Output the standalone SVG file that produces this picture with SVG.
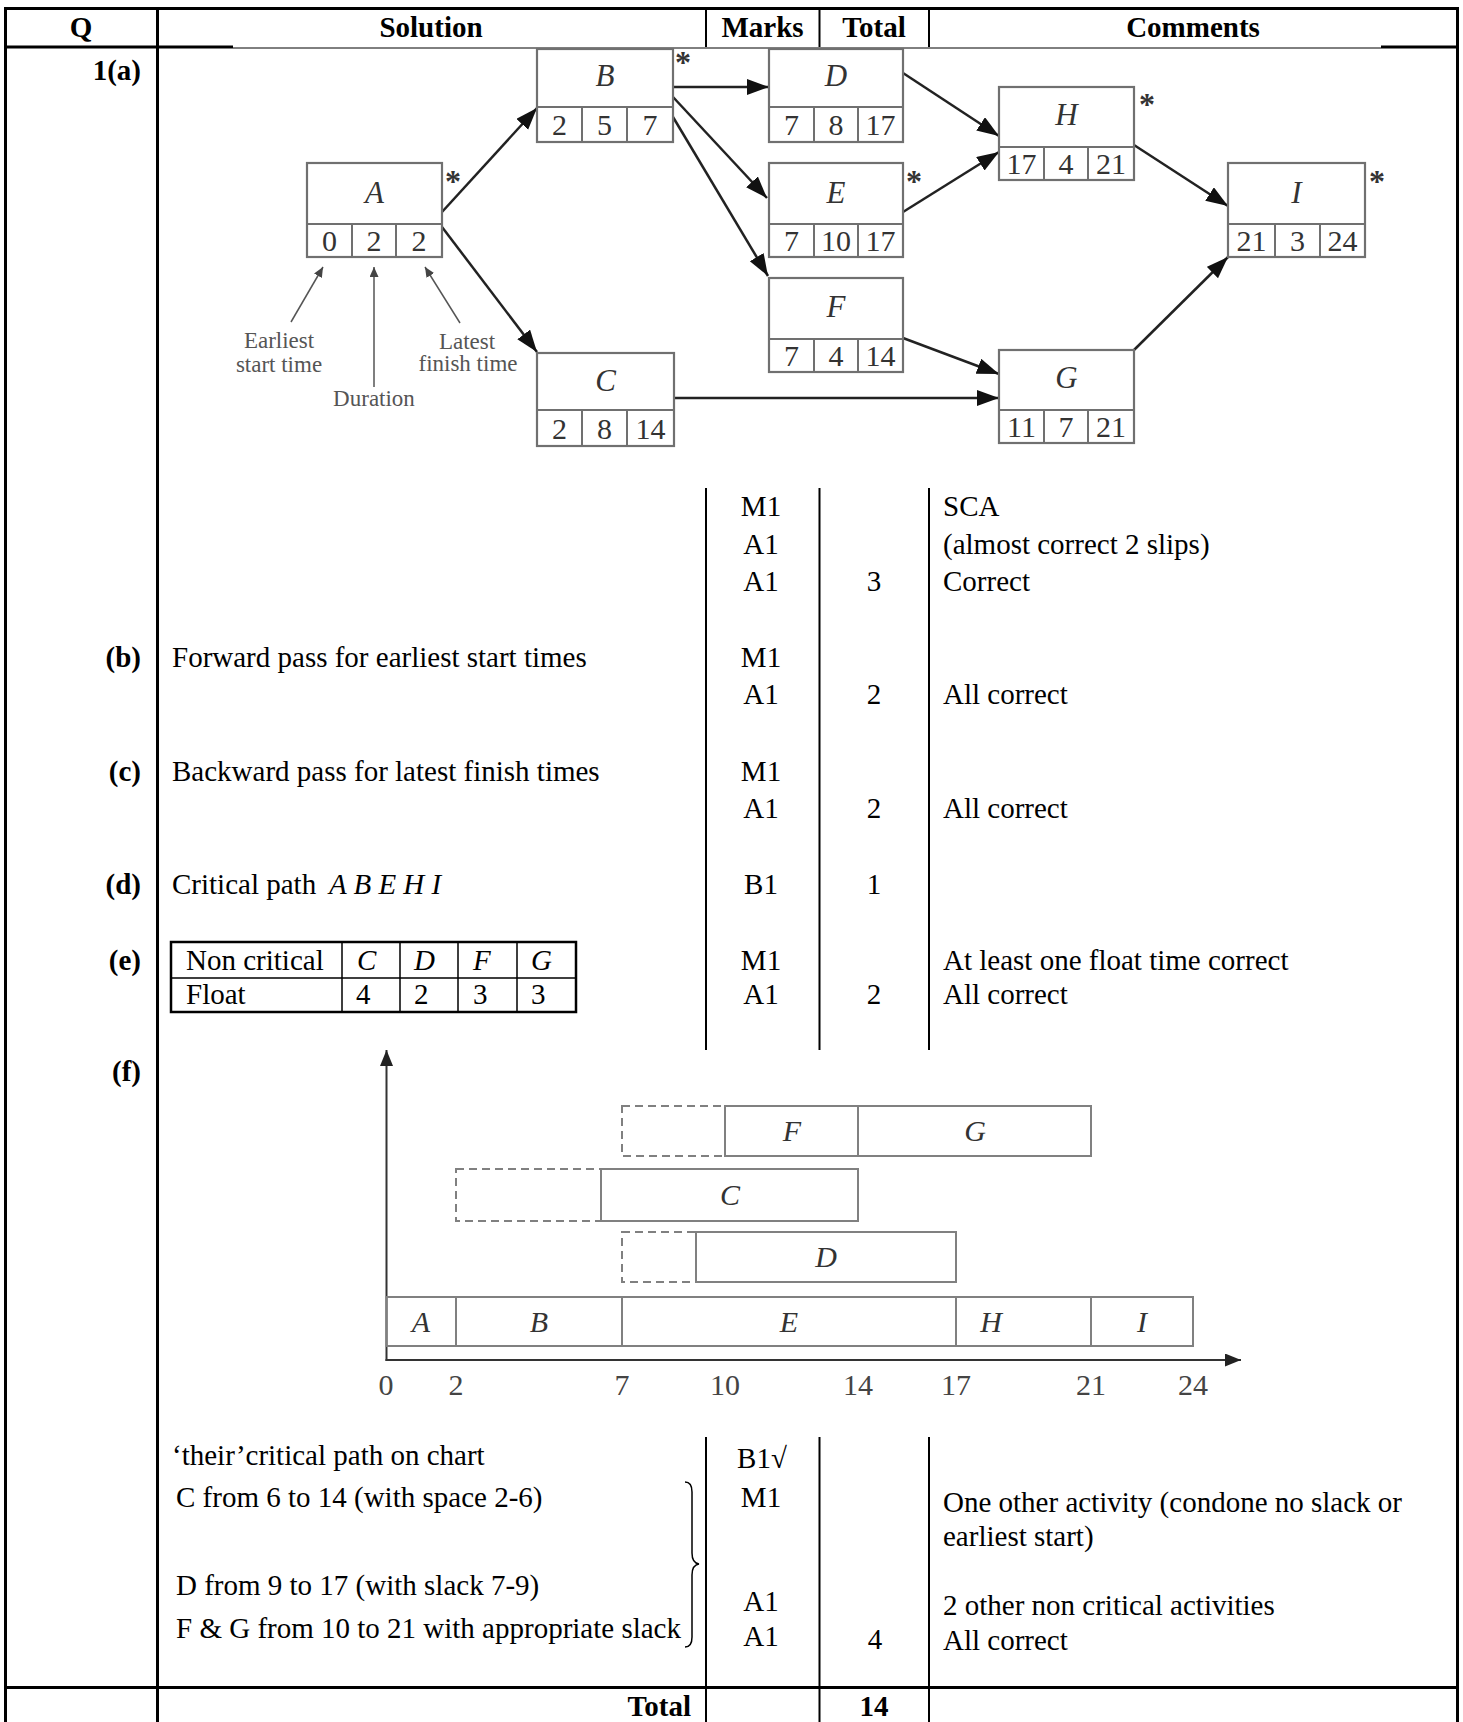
<svg xmlns="http://www.w3.org/2000/svg" width="1463" height="1722" viewBox="0 0 1463 1722">
<style>
.t{font-family:"Liberation Serif","Times New Roman",serif;font-size:29px;fill:#000}
.b{font-weight:bold}
.i{font-style:italic}
.c{text-anchor:middle}
.e{text-anchor:end}
.grid{stroke:#000;stroke-width:2;fill:none}
.thk{stroke:#000;stroke-width:3;fill:none}
.box{fill:#fff;stroke:#707070;stroke-width:2.2}
.bl{stroke:#707070;stroke-width:2;fill:none}
.nl{font-family:"Liberation Serif","Times New Roman",serif;font-size:31px;font-style:italic;fill:#333;text-anchor:middle}
.nn{font-family:"Liberation Serif","Times New Roman",serif;font-size:30px;fill:#333;text-anchor:middle}
.ast{font-family:"Liberation Serif","Times New Roman",serif;font-size:32px;font-weight:bold;fill:#333;text-anchor:middle}
.arr{stroke:#222;stroke-width:2.5;fill:none;marker-end:url(#ah)}
.ptr{stroke:#555;stroke-width:1.5;fill:none;marker-end:url(#ph)}
.lab{font-family:"Liberation Serif","Times New Roman",serif;font-size:23px;fill:#555;text-anchor:middle}
.gb{fill:none;stroke:#808080;stroke-width:2}
.gd{fill:none;stroke:#808080;stroke-width:2;stroke-dasharray:8 5}
.ax{stroke:#333;stroke-width:2;fill:none;marker-end:url(#axh)}
.gl{font-family:"Liberation Serif","Times New Roman",serif;font-size:30px;font-style:italic;fill:#333;text-anchor:middle}
.tk{font-family:"Liberation Serif","Times New Roman",serif;font-size:30px;fill:#444;text-anchor:middle}
</style>
<defs>
<marker id="ah" markerUnits="userSpaceOnUse" markerWidth="24" markerHeight="18" refX="22" refY="8" orient="auto"><path d="M0,0 L22,8 L0,16 z" fill="#111"/></marker>
<marker id="ph" markerUnits="userSpaceOnUse" markerWidth="12" markerHeight="9" refX="10" refY="4.5" orient="auto"><path d="M0,0 L10,4.5 L0,9 z" fill="#444"/></marker>
<marker id="axh" markerUnits="userSpaceOnUse" markerWidth="18" markerHeight="14" refX="16" refY="6.5" orient="auto"><path d="M0,0 L16,6.5 L0,13 z" fill="#222"/></marker>
</defs>
<rect width="1463" height="1722" fill="#fff"/>

<g id="table-grid">
<line class="thk" x1="4" y1="8.5" x2="1459" y2="8.5"/>
<line class="thk" x1="5.5" y1="8" x2="5.5" y2="1722"/>
<line class="thk" x1="157.5" y1="8" x2="157.5" y2="1722"/>
<line class="thk" x1="1457.5" y1="8" x2="1457.5" y2="1722"/>
<line class="grid" x1="706" y1="8" x2="706" y2="47"/>
<line class="grid" x1="819.5" y1="8" x2="819.5" y2="47"/>
<line class="grid" x1="929" y1="8" x2="929" y2="47"/>
<line class="thk" x1="5" y1="47" x2="233" y2="47"/>
<line stroke="#000" stroke-width="1" x1="233" y1="48" x2="1381" y2="48"/>
<line class="thk" x1="1381" y1="47" x2="1458" y2="47"/>
<line class="grid" x1="706" y1="488" x2="706" y2="1050"/>
<line class="grid" x1="819.5" y1="488" x2="819.5" y2="1050"/>
<line class="grid" x1="929" y1="488" x2="929" y2="1050"/>
<line class="grid" x1="706" y1="1437" x2="706" y2="1722"/>
<line class="grid" x1="819.5" y1="1437" x2="819.5" y2="1722"/>
<line class="grid" x1="929" y1="1437" x2="929" y2="1722"/>
<line class="thk" x1="4" y1="1687.5" x2="1459" y2="1687.5"/>
</g>

<g id="header">
<text class="t b c" x="81" y="37">Q</text>
<text class="t b c" x="431" y="37">Solution</text>
<text class="t b c" x="762.5" y="37">Marks</text>
<text class="t b c" x="874" y="37">Total</text>
<text class="t b c" x="1193" y="37">Comments</text>
</g>

<g id="network">
<g id="connectors">
<path class="arr" d="M442,212 L537,108"/>
<path class="arr" d="M442,227 L537,352"/>
<path class="arr" d="M673,87 L769,87"/>
<path class="arr" d="M673,97 L767,198"/>
<path class="arr" d="M673,117 L768,276"/>
<path class="arr" d="M903,73 L999,136"/>
<path class="arr" d="M903,212 L999,152"/>
<path class="arr" d="M1134,145 L1228,206"/>
<path class="arr" d="M903,338 L999,374"/>
<path class="arr" d="M674,398 L999,398"/>
<path class="arr" d="M1134,350 L1228,257"/>
<path class="ptr" d="M291,322 L323,267"/>
<path class="ptr" d="M374,387 L374,267"/>
<path class="ptr" d="M460,323 L425,267"/>
</g>
<g id="node-A">
<rect class="box" x="307" y="163" width="135" height="94"/>
<path class="bl" d="M307,224 H442 M352,224 V257 M396,224 V257"/>
<text class="nl" x="374.5" y="203">A</text>
<text class="nn" x="329.5" y="251">0</text><text class="nn" x="374" y="251">2</text><text class="nn" x="419" y="251">2</text>
<text class="ast" x="453" y="192">*</text>
</g>
<g id="node-B">
<rect class="box" x="537" y="49" width="136" height="93"/>
<path class="bl" d="M537,107 H673 M582,107 V142 M627,107 V142"/>
<text class="nl" x="605" y="86">B</text>
<text class="nn" x="559.5" y="135">2</text><text class="nn" x="604.5" y="135">5</text><text class="nn" x="650" y="135">7</text>
<text class="ast" x="683" y="73">*</text>
</g>
<g id="node-C">
<rect class="box" x="537" y="353" width="137" height="93"/>
<path class="bl" d="M537,410 H674 M582,410 V446 M627,410 V446"/>
<text class="nl" x="605.5" y="391">C</text>
<text class="nn" x="559.5" y="439">2</text><text class="nn" x="604.5" y="439">8</text><text class="nn" x="650.5" y="439">14</text>
</g>
<g id="node-D">
<rect class="box" x="769" y="49" width="134" height="93"/>
<path class="bl" d="M769,107 H903 M814,107 V142 M858,107 V142"/>
<text class="nl" x="836" y="86">D</text>
<text class="nn" x="791.5" y="135">7</text><text class="nn" x="836" y="135">8</text><text class="nn" x="880.5" y="135">17</text>
</g>
<g id="node-E">
<rect class="box" x="769" y="163" width="134" height="94"/>
<path class="bl" d="M769,224 H903 M814,224 V257 M858,224 V257"/>
<text class="nl" x="836" y="203">E</text>
<text class="nn" x="791.5" y="251">7</text><text class="nn" x="836" y="251">10</text><text class="nn" x="880.5" y="251">17</text>
<text class="ast" x="914" y="192">*</text>
</g>
<g id="node-F">
<rect class="box" x="769" y="278" width="134" height="94"/>
<path class="bl" d="M769,339 H903 M814,339 V372 M858,339 V372"/>
<text class="nl" x="836" y="317">F</text>
<text class="nn" x="791.5" y="366">7</text><text class="nn" x="836" y="366">4</text><text class="nn" x="880.5" y="366">14</text>
</g>
<g id="node-G">
<rect class="box" x="999" y="350" width="135" height="93"/>
<path class="bl" d="M999,410 H1134 M1044,410 V443 M1088,410 V443"/>
<text class="nl" x="1066.5" y="388">G</text>
<text class="nn" x="1021.5" y="437">11</text><text class="nn" x="1066" y="437">7</text><text class="nn" x="1111" y="437">21</text>
</g>
<g id="node-H">
<rect class="box" x="999" y="87" width="135" height="93"/>
<path class="bl" d="M999,147 H1134 M1044,147 V180 M1088,147 V180"/>
<text class="nl" x="1066.5" y="125">H</text>
<text class="nn" x="1021.5" y="174">17</text><text class="nn" x="1066" y="174">4</text><text class="nn" x="1111" y="174">21</text>
<text class="ast" x="1147" y="115">*</text>
</g>
<g id="node-I">
<rect class="box" x="1228" y="163" width="137" height="94"/>
<path class="bl" d="M1228,224 H1365 M1275,224 V257 M1320,224 V257"/>
<text class="nl" x="1296.5" y="203">I</text>
<text class="nn" x="1251.5" y="251">21</text><text class="nn" x="1297.5" y="251">3</text><text class="nn" x="1342.5" y="251">24</text>
<text class="ast" x="1377" y="192">*</text>
</g>
<g id="pointer-labels">
<text class="lab" x="279" y="348">Earliest</text>
<text class="lab" x="279" y="372">start time</text>
<text class="lab" x="374" y="406">Duration</text>
<text class="lab" x="467" y="349">Latest</text>
<text class="lab" x="468" y="371">finish time</text>
</g>
</g>

<g id="row-a">
<text class="t b e" x="141" y="80">1(a)</text>
<text class="t c" x="761" y="516">M1</text>
<text class="t c" x="761" y="554">A1</text>
<text class="t c" x="761" y="591">A1</text>
<text class="t c" x="874" y="591">3</text>
<text class="t" x="943" y="516">SCA</text>
<text class="t" x="943" y="554">(almost correct 2 slips)</text>
<text class="t" x="943" y="591">Correct</text>
</g>

<g id="row-b">
<text class="t b e" x="141" y="667">(b)</text>
<text class="t" x="172" y="667">Forward pass for earliest start times</text>
<text class="t c" x="761" y="667">M1</text>
<text class="t c" x="761" y="704">A1</text>
<text class="t c" x="874" y="704">2</text>
<text class="t" x="943" y="704">All correct</text>
</g>

<g id="row-c">
<text class="t b e" x="141" y="781">(c)</text>
<text class="t" x="172" y="781">Backward pass for latest finish times</text>
<text class="t c" x="761" y="781">M1</text>
<text class="t c" x="761" y="818">A1</text>
<text class="t c" x="874" y="818">2</text>
<text class="t" x="943" y="818">All correct</text>
</g>

<g id="row-d">
<text class="t b e" x="141" y="894">(d)</text>
<text class="t" x="172" y="894">Critical path <tspan class="i" x="329">A B E H I</tspan></text>
<text class="t c" x="761" y="894">B1</text>
<text class="t c" x="874" y="894">1</text>
</g>

<g id="row-e">
<text class="t b e" x="141" y="970">(e)</text>
<g id="float-table">
<rect x="171" y="942" width="405" height="70" fill="none" stroke="#000" stroke-width="2.5"/>
<path d="M171,978 H576 M342,942 V1012 M400,942 V1012 M458,942 V1012 M517,942 V1012" stroke="#000" stroke-width="1.5" fill="none"/>
<text class="t" x="186" y="970">Non critical</text>
<text class="t" x="186" y="1004">Float</text>
<text class="t i" x="357" y="970">C</text>
<text class="t i" x="414" y="970">D</text>
<text class="t i" x="473" y="970">F</text>
<text class="t i" x="531" y="970">G</text>
<text class="t" x="356" y="1004">4</text>
<text class="t" x="414" y="1004">2</text>
<text class="t" x="473" y="1004">3</text>
<text class="t" x="531" y="1004">3</text>
</g>
<text class="t c" x="761" y="970">M1</text>
<text class="t c" x="761" y="1004">A1</text>
<text class="t c" x="874" y="1004">2</text>
<text class="t" x="943" y="970">At least one float time correct</text>
<text class="t" x="943" y="1004">All correct</text>
</g>

<g id="row-f">
<text class="t b e" x="141" y="1081">(f)</text>
<g id="gantt">
<path class="ax" d="M386.5,1361 V1050"/>
<path class="ax" d="M385.5,1360 H1241"/>
<rect class="gb" x="386.5" y="1297" width="806.5" height="49"/>
<path class="gb" d="M456,1297 V1346 M622,1297 V1346 M956,1297 V1346 M1091,1297 V1346"/>
<text class="gl" x="421" y="1332">A</text>
<text class="gl" x="539" y="1332">B</text>
<text class="gl" x="789" y="1332">E</text>
<text class="gl" x="991" y="1332">H</text>
<text class="gl" x="1142" y="1332">I</text>
<rect class="gd" x="622" y="1232" width="74" height="50"/>
<rect class="gb" x="696" y="1232" width="260" height="50"/>
<text class="gl" x="826" y="1267">D</text>
<rect class="gd" x="456" y="1169" width="145" height="52"/>
<rect class="gb" x="601" y="1169" width="257" height="52"/>
<text class="gl" x="730" y="1205">C</text>
<rect class="gd" x="622" y="1106" width="103" height="50"/>
<rect class="gb" x="725" y="1106" width="133" height="50"/>
<rect class="gb" x="858" y="1106" width="233" height="50"/>
<text class="gl" x="792" y="1141">F</text>
<text class="gl" x="975" y="1141">G</text>
<text class="tk" x="386" y="1395">0</text>
<text class="tk" x="456" y="1395">2</text>
<text class="tk" x="622" y="1395">7</text>
<text class="tk" x="725" y="1395">10</text>
<text class="tk" x="858" y="1395">14</text>
<text class="tk" x="956" y="1395">17</text>
<text class="tk" x="1091" y="1395">21</text>
<text class="tk" x="1193" y="1395">24</text>
</g>
<text class="t" x="172" y="1465">‘their’critical path on chart</text>
<text class="t" x="176" y="1507">C from 6 to 14 (with space 2-6)</text>
<text class="t" x="176" y="1595">D from 9 to 17 (with slack 7-9)</text>
<text class="t" x="176" y="1638">F &amp; G from 10 to 21 with appropriate slack</text>
<path d="M685,1482 Q692,1482 692,1492 L692,1553 Q692,1563 699,1564 Q692,1565 692,1575 L692,1637 Q692,1647 685,1647" fill="none" stroke="#000" stroke-width="1.5"/>
<text class="t c" x="762" y="1468">B1√</text>
<text class="t c" x="761" y="1507">M1</text>
<text class="t c" x="761" y="1611">A1</text>
<text class="t c" x="761" y="1646">A1</text>
<text class="t c" x="875" y="1649">4</text>
<text class="t" x="943" y="1512">One other activity (condone no slack or</text>
<text class="t" x="943" y="1546">earliest start)</text>
<text class="t" x="943" y="1615">2 other non critical activities</text>
<text class="t" x="943" y="1650">All correct</text>
</g>

<g id="total-row">
<text class="t b e" x="691" y="1716">Total</text>
<text class="t b c" x="874" y="1716">14</text>
</g>
</svg>
